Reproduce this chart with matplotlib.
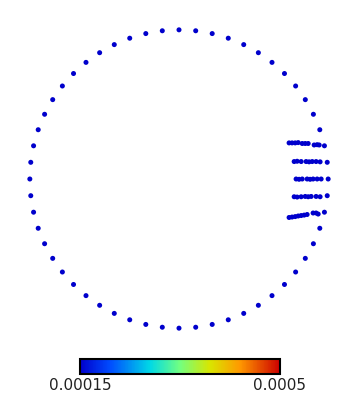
import matplotlib
matplotlib.use("Agg")
import matplotlib.pyplot as plt
import numpy as np
from matplotlib.colors import LinearSegmentedColormap, Normalize
from matplotlib.cm import ScalarMappable

# ring of boundary points (unit circle)
n_ring = 56
ring_value = 0.00015

# clustered points near the right wall, one list per row
cluster_x = [
    0.738, 0.758, 0.779, 0.799, 0.826, 0.846, 0.866, 0.906, 0.926, 0.940,
    0.772, 0.792, 0.819, 0.852, 0.872, 0.893, 0.919, 0.946,
    0.785, 0.805, 0.826, 0.859, 0.879, 0.899, 0.926, 0.953,
    0.772, 0.792, 0.819, 0.846, 0.866, 0.886, 0.919, 0.946,
    0.738, 0.758, 0.779, 0.799, 0.819, 0.839, 0.859, 0.899, 0.919, 0.933,
]
cluster_y = [
    0.242, 0.242, 0.242, 0.244, 0.238, 0.238, 0.238, 0.228, 0.230, 0.228,
    0.117, 0.119, 0.117, 0.117, 0.115, 0.117, 0.117, 0.115,
    0.000, -0.002, 0.000, 0.000, -0.002, 0.000, 0.000, 0.000,
    -0.119, -0.121, -0.119, -0.117, -0.119, -0.117, -0.117, -0.119,
    -0.258, -0.255, -0.252, -0.248, -0.245, -0.242, -0.238, -0.228, -0.228, -0.235,
]
cluster_value = 0.00015

vmin, vmax = 0.00015, 0.0005
tick_labels = ["0.00015", "0.0005"]

cmap = LinearSegmentedColormap.from_list("rb", [
    (0.0, (0.0, 0.0, 0.8)),
    (0.15, (0.0, 0.3, 1.0)),
    (0.35, (0.0, 0.85, 0.9)),
    (0.5, (0.45, 1.0, 0.5)),
    (0.65, (0.85, 0.9, 0.0)),
    (0.8, (1.0, 0.6, 0.0)),
    (1.0, (0.8, 0.0, 0.0)),
])
norm = Normalize(vmin=vmin, vmax=vmax)

fig = plt.figure(figsize=(3.6, 3.95), dpi=100)
ax = fig.add_axes([0, 37 / 395, 358 / 360, 358 / 395])

theta = np.linspace(0, 2 * np.pi, n_ring, endpoint=False) + np.pi / 2
rx = np.cos(theta)
ry = np.sin(theta)
ax.scatter(rx, ry, c=np.full(n_ring, ring_value), cmap=cmap, norm=norm,
           s=13, linewidths=0)
ax.scatter(cluster_x, cluster_y, c=np.full(len(cluster_x), cluster_value),
           cmap=cmap, norm=norm, s=13, linewidths=0)
ax.set_xlim(-1.2, 1.2)
ax.set_ylim(-1.2, 1.2)
ax.axis("off")

cax = fig.add_axes([80 / 360, 21 / 395, 200 / 360, 15 / 395])
cb = fig.colorbar(ScalarMappable(norm=norm, cmap=cmap), cax=cax,
                  orientation="horizontal")
cb.set_ticks([vmin, vmax])
cb.set_ticklabels(tick_labels)
cb.ax.tick_params(length=0, labelsize=11, pad=3, colors="#222222")
cb.outline.set_linewidth(1.5)

fig.savefig("out.png", dpi=100)
